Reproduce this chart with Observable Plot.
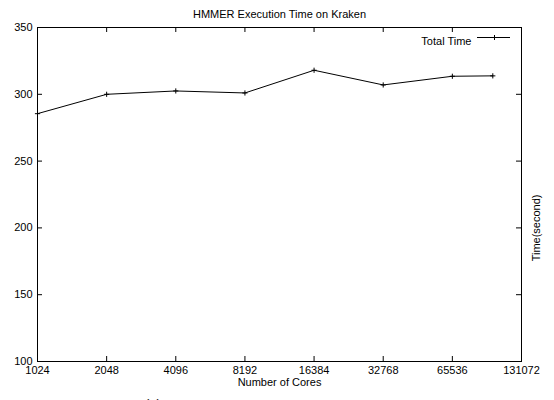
<!DOCTYPE html>
<html><head><meta charset="utf-8">
<script src="https://cdn.jsdelivr.net/npm/d3@7"></script>
<script src="https://cdn.jsdelivr.net/npm/@observablehq/plot@0.6"></script>
<style>
html,body{margin:0;padding:0;background:#fff;overflow:hidden;width:554px;height:400px}
#chart{position:relative;width:554px;height:400px}
#tag{position:absolute;left:145px;top:397px;font:13px "Liberation Sans",Arial,sans-serif;color:#000;line-height:1}
</style></head><body>
<div id="chart"></div>
<script>
const cores = [1024, 2048, 4096, 8192, 16384, 32768, 65536, 98304];
const totalTime = [285.5, 300, 302.5, 301, 318, 307, 313.5, 313.8];
const xTicks = [1024, 2048, 4096, 8192, 16384, 32768, 65536, 131072];
const yTicks = [100, 150, 200, 250, 300, 350];
const title = "HMMER Execution Time on Kraken";
const xLabel = "Number of Cores";
const yLabel = "Time(second)";
const seriesName = "Total Time";
const panelTag = "(a)";

const W = 554, H = 400, mL = 37, mR = 33, mT = 27, mB = 39;
const fw = W - mL - mR, fh = H - mT - mB;
const data = cores.map((c, i) => ({cores: c, time: totalTime[i]}));
const font = '"Liberation Sans", Arial, Helvetica, sans-serif';

const svg = Plot.plot({
  width: W, height: H,
  marginLeft: mL, marginRight: mR, marginTop: mT, marginBottom: mB,
  style: {fontFamily: font, fontSize: "11px", background: "#fff", color: "#000", overflow: "visible"},
  x: {type: "log", base: 2, domain: [1024, 131072]},
  y: {domain: [100, 350]},
  marks: [
    Plot.axisX({ticks: xTicks, tickSize: 0, tickPadding: 5, tickFormat: d => String(d), label: null}),
    Plot.axisY({ticks: yTicks, tickSize: 0, tickPadding: 5, tickFormat: d => String(d), label: null}),
    Plot.tickX(xTicks, {x: d => d, insetTop: fh - 5, stroke: "#000"}),
    Plot.tickX(xTicks, {x: d => d, insetBottom: fh - 5, stroke: "#000"}),
    Plot.tickY(yTicks, {y: d => d, insetRight: fw - 5, stroke: "#000"}),
    Plot.tickY(yTicks, {y: d => d, insetLeft: fw - 5, stroke: "#000"}),
    Plot.frame({stroke: "#000"}),
    Plot.line(data, {x: "cores", y: "time", stroke: "#000", strokeWidth: 1}),
    Plot.dot(data, {x: "cores", y: "time", symbol: "plus", r: 1.8, stroke: "#000", strokeWidth: 1}),
    Plot.text([title], {text: d => d, frameAnchor: "top", dy: -17}),
    Plot.text([xLabel], {text: d => d, frameAnchor: "bottom", dy: 24}),
    Plot.text([yLabel], {text: d => d, frameAnchor: "right", dx: 15, rotate: -90}),
    Plot.text([seriesName], {text: d => d, frameAnchor: "top-right", textAnchor: "end", dx: -50, dy: 10})
  ]
});

// legend sample (line with plus marker)
const g = d3.select(svg).append("g").attr("stroke", "#000").attr("fill", "none").attr("stroke-width", 1);
g.append("line").attr("x1", 477).attr("x2", 510).attr("y1", 37.5).attr("y2", 37.5);
g.append("line").attr("x1", 494.5).attr("x2", 494.5).attr("y1", 35).attr("y2", 40);

document.getElementById("chart").appendChild(svg);
const tag = document.createElement("div");
tag.id = "tag";
tag.textContent = panelTag;
document.getElementById("chart").appendChild(tag);
</script>
</body></html>
